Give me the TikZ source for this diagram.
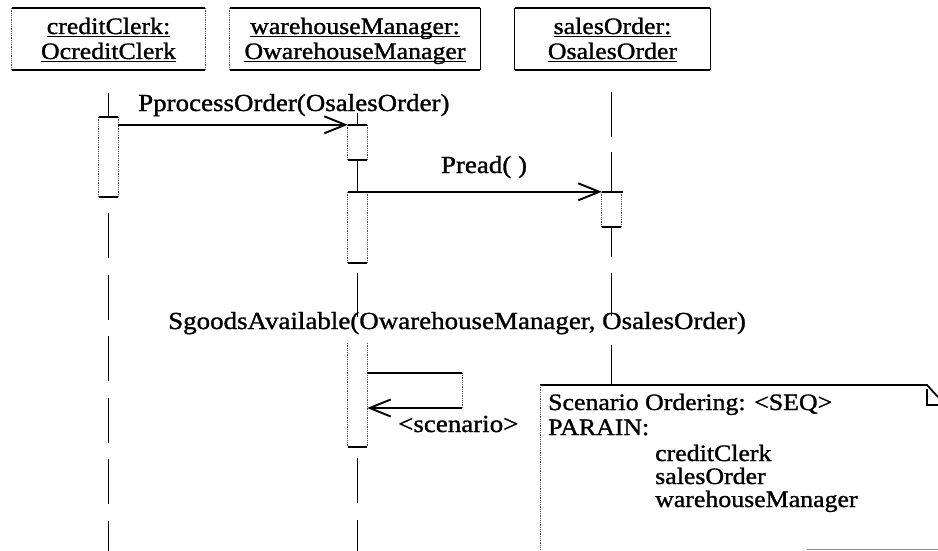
\documentclass[tikz,border=0pt]{standalone}
\usepackage{fontspec}
\setmainfont{Liberation Serif}[FakeStretch=1.1,FakeBold=1.2]
\usetikzlibrary{arrows.meta}
\newcommand\ulin[1]{\setbox0\hbox{#1}\rlap{\rule[-3pt]{\wd0}{1.4pt}}\box0}
\newcommand\actbox[4]{%
  \node[act, minimum height={(#4-#3)*1pt}] (#1) at (#2,{(#3+#4)/2}) {};
  \draw[dside] (#1.north west) -- (#1.south west) (#1.north east) -- (#1.south east);}
\begin{document}
\begin{tikzpicture}[x=1pt,y=-1pt,
  ll/.style={line width=1.8pt},
  barline/.style={line width=1.8pt},
  dside/.style={line width=0.8pt, densely dotted, black!70},
  msgline/.style={line width=1.5pt, -{Straight Barb[length=21pt,width=17pt,line width=1.9pt]}},
  headtxt/.style={font=\fontsize{23.5}{25}\selectfont, inner sep=0pt, anchor=base},
  msg/.style={font=\fontsize{24.5}{26}\selectfont, inner sep=0pt},
  notetxt/.style={font=\fontsize{23.5}{26}\selectfont, inner sep=0pt, anchor=base west},
  act/.style={minimum width=19pt, inner sep=0pt, draw=none},
  objhead/.style={inner sep=0pt, draw=none, minimum height=62pt},
]
\useasboundingbox[fill=white] (0,0) rectangle (938,551);

% object heads
\node[objhead, minimum width=193pt] (hA) at (108.5,39) {};
\node[objhead, minimum width=250pt] (hB) at (355,39) {};
\node[objhead, minimum width=195pt] (hC) at (612.5,39) {};
\foreach \h in {hA,hB,hC}{
  \draw[barline] (\h.north west) -- (\h.north east);
  \draw[barline] (\h.south west) -- (\h.south east);}
\draw[dside] (hA.north west) -- (hA.south west) (hA.north east) -- (hA.south east);
\draw[dside] (hB.north west) -- (hB.south west);
\draw[line width=1pt] (hB.north east) -- (hB.south east);
\draw[line width=1.2pt] (hC.north west) -- (hC.south west) (hC.north east) -- (hC.south east);

\node[headtxt] (tA1) at (108.5,34) {\ulin{creditClerk:}};
\node[headtxt] (tA2) at (108.5,59) {\ulin{OcreditClerk}};
\node[headtxt] (tB1) at (355,34) {\ulin{warehouseManager:}};
\node[headtxt] (tB2) at (355,59) {\ulin{OwarehouseManager}};
\node[headtxt] (tC1) at (612.5,34) {\ulin{salesOrder:}};
\node[headtxt] (tC2) at (612.5,59) {\ulin{OsalesOrder}};

% activation boxes
\actbox{aA}{108.5}{117}{197}
\actbox{aB1}{357.5}{125}{160}
\actbox{aB2}{357.5}{192}{263}
\actbox{aC}{611.5}{192}{227}
\actbox{aB3}{357.5}{343}{447}
\draw[barline] (aA.north west) -- (aA.north east);
\draw[barline] (aA.south west) -- (aA.south east);
\draw[barline] (aB1.south west) -- (aB1.south east);
\draw[barline] (aB2.north west) -- (aB2.north east);
\draw[barline] (aB2.south west) -- (aB2.south east);
\draw[barline] (aC.south west) -- (aC.south east);
\draw[barline] (aB3.south west) -- (aB3.south east);

% lifelines
\coordinate (topA) at (108.5,93);
\coordinate (endA) at (108.5,551);
\draw[ll] (topA) -- (aA.north);
\draw[ll, dash pattern=on 45pt off 16.5pt, dash phase=45.5pt] (aA.south) -- (endA);

\coordinate (topB) at (357.5,113);
\coordinate (b1) at (357.5,273);
\coordinate (b2) at (357.5,317);
\coordinate (endB) at (357.5,551);
\draw[ll] (topB) -- (aB1.north);
\draw[ll] (aB1.south) -- (aB2.north);
\draw[ll] (b1) -- (b2);
\draw[ll, dash pattern=on 45pt off 16.5pt, dash phase=50.5pt] (aB3.south) -- (endB);

\coordinate (c1) at (611.5,92);
\coordinate (c2) at (611.5,137);
\coordinate (c3) at (611.5,152);
\coordinate (c4) at (611.5,257);
\coordinate (c5) at (611.5,273);
\coordinate (c6) at (611.5,316);
\coordinate (c7) at (611.5,345);
\coordinate (c8) at (611.5,385);
\draw[ll] (c1) -- (c2);
\draw[ll] (c3) -- (aC.north);
\draw[ll] (aC.south) -- (c4);
\draw[ll] (c5) -- (c6);
\draw[ll] (c7) -- (c8);

% messages
\draw[msgline] (aA.east |- aB1.north) -- (aB1.north west);
\draw[barline] (aB1.north west) -- (aB1.north east);
\node[msg, anchor=base west] (m1) at (138,111) {PprocessOrder(OsalesOrder)};

\draw[msgline] (aB2.north) -- (aC.north west);
\draw[barline] (aC.north west) -- ([xshift=2pt]aC.north east);
\node[msg, anchor=base] (m2) at (484,173) {Pread( )};

\node[msg, anchor=base west] (m3) at (168,329) {SgoodsAvailable(OwarehouseManager, OsalesOrder)};

% self call
\coordinate (sc1) at (462,373);
\coordinate (sc2) at (462,408);
\draw[line width=1.2pt] (aB3.east |- sc1) -- (sc1);
\draw[dside] (sc1) -- (sc2);
\draw[msgline] (sc2) -- (aB3.east |- sc2);
\node[msg, anchor=base west] (m4) at (398,432) {<scenario>};

% note
\coordinate (nTL) at (540,385);
\coordinate (nTR) at (927,385);
\coordinate (nR) at (938,397);
\coordinate (nF0) at (927,389);
\coordinate (nF) at (927,405);
\coordinate (nFR) at (938,405);
\coordinate (nBL) at (540,551);
\coordinate (nB1) at (807,549.5);
\coordinate (nB2) at (938,549.5);
\draw[barline] (nTL) -- (nTR) -- (nR);
\draw[line width=1.4pt] (nF0) -- (nF) -- (nFR);
\draw[dside] (nTL) -- (nBL);
\draw[line width=1.2pt, black!45] (nB1) -- (nB2);

\node[notetxt] (n1) at (548,410) {Scenario Ordering: <SEQ>};
\node[notetxt] (n2) at (548,435) {PARAIN:};
\node[notetxt] (n3) at (655,461) {creditClerk};
\node[notetxt] (n4) at (655,484) {salesOrder};
\node[notetxt] (n5) at (655,507) {warehouseManager};
\end{tikzpicture}
\end{document}
